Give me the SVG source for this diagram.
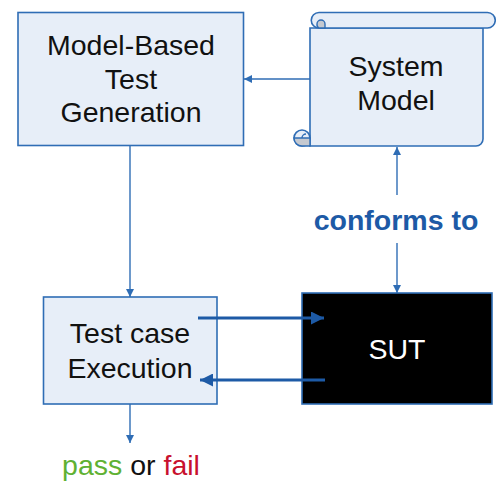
<svg xmlns="http://www.w3.org/2000/svg" width="496" height="482" viewBox="0 0 496 482">
  <style>
    .box { fill: #e7eef8; stroke: #2f6db5; stroke-width: 1.6; }
    .lbl { font-family: "Liberation Sans", Arial, sans-serif; font-size: 28.5px; fill: #111; text-anchor: middle; }
    .thin { stroke: #2f6db5; stroke-width: 1.4; fill: none; }
    .thick { stroke: #1d5aa6; stroke-width: 3.2; fill: none; }
    .curl { fill: #c5c9d0; stroke: #2f6db5; stroke-width: 1.4; }
  </style>
  <defs>
    <marker id="ah" viewBox="0 0 10 10" refX="10" refY="5" markerWidth="8" markerHeight="8" markerUnits="userSpaceOnUse" orient="auto">
      <path d="M0,0 L10,5 L0,10 Z" fill="#2f6db5"/>
    </marker>
    <marker id="ahb" viewBox="0 0 10 10" refX="10" refY="5" markerWidth="13" markerHeight="13" markerUnits="userSpaceOnUse" orient="auto">
      <path d="M0,0 L10,5 L0,10 Z" fill="#1d5aa6"/>
    </marker>
  </defs>

  <rect width="496" height="482" fill="#fff"/>

  <!-- test generator -->
  <g id="mbtg">
    <rect class="box" x="18" y="12.5" width="225.5" height="133"/>
    <text class="lbl" x="131" y="55">Model-Based</text>
    <text class="lbl" x="131" y="88.5">Test</text>
    <text class="lbl" x="131" y="122">Generation</text>
  </g>

  <!-- system model drawn as a scroll -->
  <g id="system-model">
    <path class="box" d="M310,28 V146 H476 A7,7 0 0 0 483,139 V28 Z"/>
    <path class="box" d="M319,12.5 H487.5 A7.75,7.75 0 0 1 487.5,28 H319 A7.75,7.75 0 0 1 319,12.5 Z"/>
    <path class="curl" d="M317,24 A4,4 0 0 1 325,24 V28 H319 A4,4 0 0 1 317,24 Z"/>
    <circle class="box" cx="302" cy="138" r="8"/>
    <path class="curl" d="M294,138 H310 V146 H302 A8,8 0 0 1 294,138 Z"/>
    <path d="M302,138 A4,4 0 0 1 306,134" fill="none" stroke="#2f6db5" stroke-width="1.4"/>
    <text class="lbl" x="396" y="76">System</text>
    <text class="lbl" x="396" y="110">Model</text>
  </g>

  <!-- conformance label -->
  <g id="conforms">
    <text x="396" y="230" text-anchor="middle" font-family="'Liberation Sans', Arial, sans-serif" font-size="28.5" font-weight="bold" fill="#1d5aa6">conforms to</text>
  </g>

  <!-- executor -->
  <g id="execution">
    <rect class="box" x="43.5" y="297" width="173.5" height="107"/>
    <text class="lbl" x="130" y="343">Test case</text>
    <text class="lbl" x="130" y="378">Execution</text>
  </g>

  <!-- system under test -->
  <g id="sut">
    <rect x="302" y="293" width="190" height="111" fill="#000" stroke="#2f6db5" stroke-width="1.6"/>
    <text class="lbl" x="397" y="359" style="fill:#fff">SUT</text>
  </g>

  <!-- verdict -->
  <g id="verdict">
    <text x="131" y="475" text-anchor="middle" font-family="'Liberation Sans', Arial, sans-serif" font-size="28.5"><tspan fill="#5fb133">pass</tspan><tspan fill="#111"> or </tspan><tspan fill="#c8102e">fail</tspan></text>
  </g>

  <!-- connectors, drawn over the boxes -->
  <g id="connectors">
    <line class="thin" x1="310" y1="79" x2="244" y2="79" marker-end="url(#ah)"/>
    <line class="thin" x1="130" y1="146" x2="130" y2="297" marker-end="url(#ah)"/>
    <line class="thin" x1="397" y1="195" x2="397" y2="147" marker-end="url(#ah)"/>
    <line class="thin" x1="397" y1="243" x2="397" y2="293" marker-end="url(#ah)"/>
    <line class="thin" x1="130" y1="404" x2="130" y2="443" marker-end="url(#ah)"/>
    <line class="thick" x1="198" y1="318" x2="324" y2="318" marker-end="url(#ahb)"/>
    <line class="thick" x1="325" y1="380" x2="200" y2="380" marker-end="url(#ahb)"/>
  </g>
</svg>
